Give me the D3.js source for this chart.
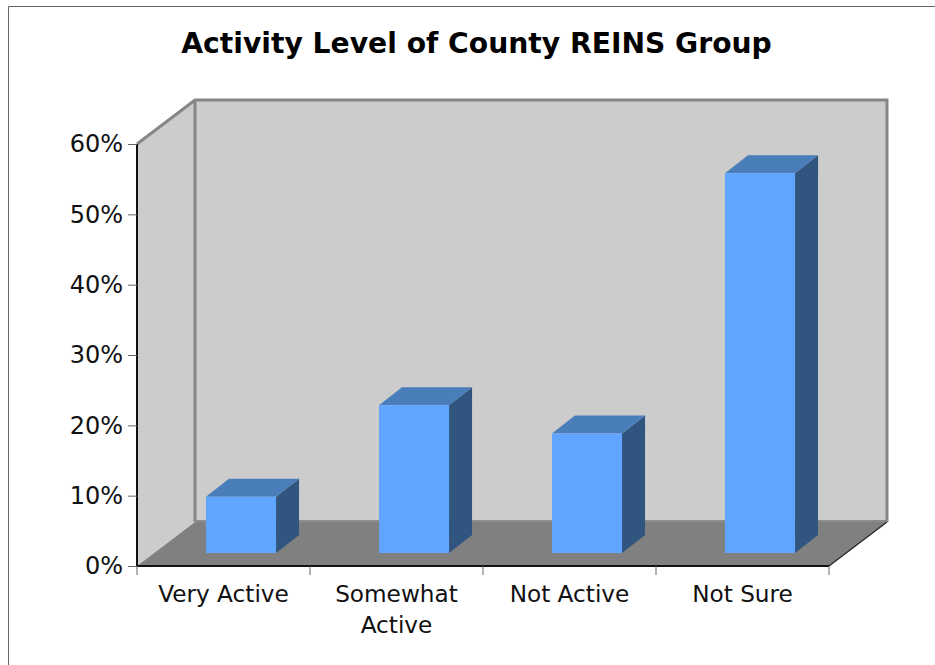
<!DOCTYPE html>
<html>
<head>
<meta charset="utf-8">
<script src="https://d3js.org/d3.v7.min.js"></script>
<style>
body { margin: 0; background: #fff; }
svg { display: block; }
text { font-family: "DejaVu Sans", sans-serif; fill: #111; }
</style>
</head>
<body>
<svg></svg>
<script>
var width = 935,
    height = 665;

// Chart values
var categories = ['Very Active', 'Somewhat Active', 'Not Active', 'Not Sure'];
var percents = [8, 21, 17, 54];
var percentTicks = [0, 10, 20, 30, 40, 50, 60];
var chartTitle = 'Activity Level of County REINS Group';

// Front plane of the 3d box
var plotLeft = 137,
    plotRight = 829,
    plotBottom = 566,
    plotTop = 144;

// Depth of the whole box, and of a bar
var depthX = 58,
    depthY = 44,
    barDepthX = 23,
    barDepthY = 18;

var x = d3.scaleBand()
    .domain(categories)
    .range([plotLeft, plotRight]);

var y = d3.scaleLinear()
    .domain([0, 60])
    .range([plotBottom, plotTop]);

var barWidth = x.bandwidth() * 0.405;

var svg = d3.select('svg')
    .attr('width', width)
    .attr('height', height);

function poly(g, pts, fill) {
    return g.append('polygon')
        .attr('points', pts.map(function (p) { return p.join(','); }).join(' '))
        .style('fill', fill);
}

// Picture frame, only the top and left edge are inside the window
svg.append('path')
    .attr('d', 'M8.5,' + height + 'V6.5H' + width)
    .style('fill', 'none')
    .style('stroke', '#666')
    .style('stroke-width', 1);

svg.append('text')
    .attr('x', 476.5)
    .attr('y', 53)
    .attr('text-anchor', 'middle')
    .style('font-size', '28.2px')
    .style('font-weight', 'bold')
    .style('fill', '#000')
    .text(chartTitle);

var box = svg.append('g');

// Side wall, back wall, floor
poly(box, [[plotLeft, plotTop], [plotLeft + depthX, plotTop - depthY], [plotLeft + depthX, plotBottom - depthY], [plotLeft, plotBottom]], '#cccccc');
poly(box, [[plotLeft + depthX, plotTop - depthY], [plotRight + depthX, plotTop - depthY], [plotRight + depthX, plotBottom - depthY], [plotLeft + depthX, plotBottom - depthY]], '#cccccc');
poly(box, [[plotLeft, plotBottom], [plotLeft + depthX, plotBottom - depthY], [plotRight + depthX, plotBottom - depthY], [plotRight, plotBottom]], '#808080');

box.append('path')
    .attr('d', 'M' + plotLeft + ',' + plotTop + 'L' + (plotLeft + depthX) + ',' + (plotTop - depthY) +
        'H' + (plotRight + depthX) + 'V' + (plotBottom - depthY) +
        'M' + (plotLeft + depthX) + ',' + (plotTop - depthY) + 'V' + (plotBottom - depthY))
    .style('fill', 'none')
    .style('stroke', '#868686')
    .style('stroke-width', 3);

// Back edge of the floor
box.append('path')
    .attr('d', 'M' + (plotLeft + depthX) + ',' + (plotBottom - depthY - 1) + 'H' + (plotRight + depthX))
    .style('fill', 'none')
    .style('stroke', '#8c8c8c')
    .style('stroke-width', 2);

box.append('path')
    .attr('d', 'M' + plotRight + ',' + plotBottom + 'L' + (plotRight + depthX) + ',' + (plotBottom - depthY))
    .style('fill', 'none')
    .style('stroke', '#222')
    .style('stroke-width', 1.2);

// Bars sit in the middle of the floor depth
var shiftX = (depthX - barDepthX) / 2,
    shiftY = (depthY - barDepthY) / 2;

var bars = svg.selectAll('g.bar')
    .data(categories)
    .enter().append('g')
    .attr('class', 'bar')
    .each(function (d, i) {
        var g = d3.select(this);
        var x0 = x(d) + (x.bandwidth() - barWidth) / 2 + shiftX,
            x1 = x0 + barWidth,
            y0 = y(0) - shiftY,
            y1 = y(percents[i]) - shiftY;
        poly(g, [[x1, y1], [x1 + barDepthX, y1 - barDepthY], [x1 + barDepthX, y0 - barDepthY], [x1, y0]], '#30557f');
        poly(g, [[x0, y1], [x0 + barDepthX, y1 - barDepthY], [x1 + barDepthX, y1 - barDepthY], [x1, y1]], '#4a7ebb');
        poly(g, [[x0, y0], [x0, y1], [x1, y1], [x1, y0]], '#60a5ff');
    });

// Axes
var yAxis = d3.axisLeft(y)
    .tickValues(percentTicks)
    .tickFormat(function (d) { return d + '%'; })
    .tickSize(9)
    .tickPadding(5);

var yG = svg.append('g')
    .attr('transform', 'translate(' + plotLeft + ',0)')
    .call(yAxis);

var xAxis = d3.axisBottom(x)
    .tickSize(0)
    .tickFormat('');

var xG = svg.append('g')
    .attr('transform', 'translate(0,' + plotBottom + ')')
    .call(xAxis);

xG.selectAll('.tick').remove();

// Ticks fall on the category edges, not the centres
xG.selectAll('line.edge')
    .data(categories.concat(['end']))
    .enter().append('line')
    .attr('class', 'edge')
    .attr('x1', function (d, i) { return plotLeft + i * x.step(); })
    .attr('x2', function (d, i) { return plotLeft + i * x.step(); })
    .attr('y1', 0)
    .attr('y2', 9)
    .style('stroke', '#666')
    .style('stroke-width', 1);

yG.selectAll('.tick line').style('stroke', '#666').style('stroke-width', 1);
yG.selectAll('.tick text')
    .style('font-family', '"DejaVu Sans", sans-serif')
    .style('font-size', '24px')
    .style('fill', '#111');
yG.select('.domain').style('stroke', '#111').style('stroke-width', 2).attr('d', 'M0,' + plotTop + 'V' + plotBottom);
xG.select('.domain').style('stroke', '#111').style('stroke-width', 2).attr('d', 'M' + plotLeft + ',0H' + plotRight);

// Category labels, wrapped by hand on the space when too wide
svg.selectAll('text.cat')
    .data(categories)
    .enter().append('text')
    .attr('class', 'cat')
    .attr('y', 602)
    .style('font-size', '23.2px')
    .each(function (d) {
        var words = d === 'Somewhat Active' ? d.split(' ') : [d];
        var t = d3.select(this);
        words.forEach(function (w, i) {
            t.append('tspan')
                .attr('x', x(d) + x.bandwidth() / 2)
                .attr('dy', i ? 31 : 0)
                .attr('text-anchor', 'middle')
                .text(w);
        });
    });
</script>
</body>
</html>
